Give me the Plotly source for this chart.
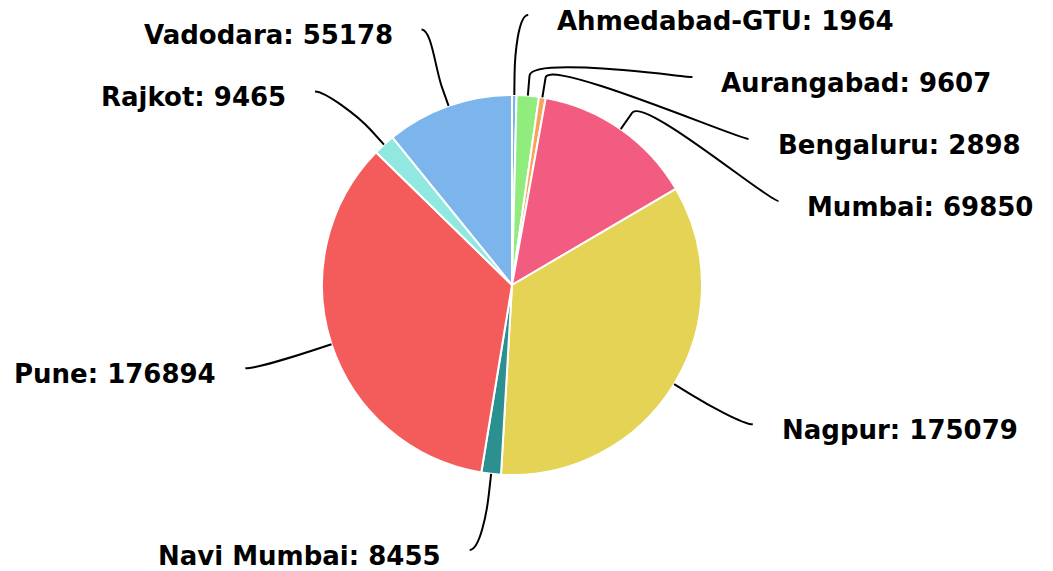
import math
import plotly.graph_objects as go

labels = ["Ahmedabad-GTU", "Aurangabad", "Bengaluru", "Mumbai", "Nagpur",
          "Navi Mumbai", "Pune", "Rajkot", "Vadodara"]
values = [1964, 9607, 2898, 69850, 175079, 8455, 176894, 9465, 55178]
colors = ["#7cb5ec", "#90ed7d", "#f7a35c", "#f15c80", "#e4d354",
          "#2b908f", "#f45b5b", "#91e8e1", "#7cb5ec"]

# page has an 8px body margin; work in screen pixels and convert
OFF = 8
W, H = 1053 - OFF, 571 - OFF
CX, CY, R = 512, 285, 190
LABEL_R = 267
PAD = 13
BREAK = 20
GAP = 62
TOP, BOTTOM = 15, 550
TEXT_DX = 27
TEXT_DY = 6
FONT = dict(family="DejaVu Sans", size=26, color="#000000")

total = sum(values)
angles = []
cum = 0
for v in values:
    angles.append((cum + v / 2) / total * 2 * math.pi)
    cum += v


def distribute(items):
    items = sorted(items, key=lambda t: t[1])
    groups = [[[i], [t]] for i, t in items]

    def first_pos(g):
        n = len(g[0])
        c = sum(g[1]) / n
        f = c - (n - 1) / 2 * GAP
        return max(TOP, min(f, BOTTOM - (n - 1) * GAP))

    changed = True
    while changed:
        changed = False
        for k in range(len(groups) - 1):
            a, b = groups[k], groups[k + 1]
            last_a = first_pos(a) + (len(a[0]) - 1) * GAP
            if first_pos(b) < last_a + GAP:
                groups[k] = [a[0] + b[0], a[1] + b[1]]
                del groups[k + 1]
                changed = True
                break
    out = {}
    for g in groups:
        f = first_pos(g)
        for j, idx in enumerate(g[0]):
            out[idx] = f + j * GAP
    return out


right, left = [], []
for i, a in enumerate(angles):
    ny = CY - LABEL_R * math.cos(a)
    (right if a < math.pi else left).append((i, ny))
ypos = {}
ypos.update(distribute(right))
ypos.update(distribute(left))


def px(x):
    return (x - OFF) / W


def py(y):
    return 1 - (y - OFF) / H


fig = go.Figure(go.Pie(
    labels=labels, values=values, sort=False, direction="clockwise", rotation=0,
    marker=dict(colors=colors, line=dict(color="#ffffff", width=2)),
    textinfo="none", hoverinfo="label+value", showlegend=False,
    domain=dict(x=[px(CX - R), px(CX + R)], y=[py(CY + R), py(CY - R)]),
))

shapes, annotations = [], []
for i, a in enumerate(angles):
    sign = 1 if a < math.pi else -1
    y = ypos[i]
    if y <= TOP + 2 or y >= BOTTOM - 2:
        x = CX + LABEL_R * math.sin(a) + sign * PAD
    else:
        dy = y - CY
        x = CX + sign * (math.sqrt(max(0.0, LABEL_R ** 2 - dy ** 2)) + PAD)
    tx, ty = CX + R * math.sin(a), CY - R * math.cos(a)
    bx, by = CX + (R + BREAK) * math.sin(a), CY - (R + BREAK) * math.cos(a)
    c1x, c1y = x - sign * 10, y
    c2x, c2y = 2 * bx - tx, 2 * by - ty
    path = (f"M {px(x)},{py(y)} C {px(c1x)},{py(c1y)} {px(c2x)},{py(c2y)} "
            f"{px(bx)},{py(by)} L {px(tx)},{py(ty)}")
    shapes.append(dict(type="path", path=path, xref="paper", yref="paper",
                       line=dict(color="#000000", width=2), layer="above"))
    annotations.append(dict(
        x=px(x + sign * TEXT_DX), y=py(y + TEXT_DY), xref="paper", yref="paper",
        text=f"<b>{labels[i]}: {values[i]}</b>", showarrow=False,
        xanchor="left" if sign > 0 else "right", yanchor="middle", font=FONT,
    ))

fig.update_layout(
    width=W, height=H, margin=dict(l=0, r=0, t=0, b=0),
    paper_bgcolor="#ffffff", plot_bgcolor="#ffffff",
    shapes=shapes, annotations=annotations,
)
fig.write_html("out.html")
